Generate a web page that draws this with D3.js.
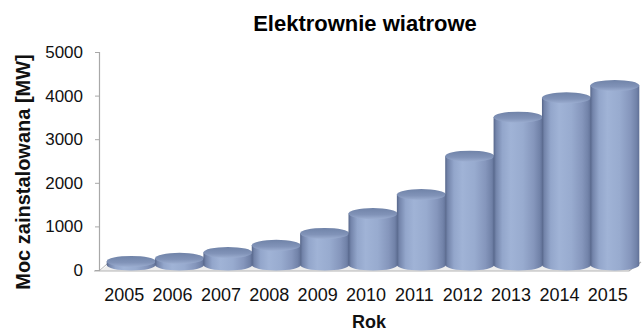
<!DOCTYPE html>
<html>
<head>
<meta charset="utf-8">
<script src="https://cdn.jsdelivr.net/npm/d3@7/dist/d3.min.js"></script>
<style>
  html, body { margin: 0; padding: 0; background: #fff; }
  svg { display: block; font-family: "Liberation Sans", Arial, sans-serif; }
</style>
</head>
<body>
<svg id="chart" width="643" height="333"></svg>
<script>
// Installed wind power capacity per year
const years = ["2005", "2006", "2007", "2008", "2009", "2010", "2011", "2012", "2013", "2014", "2015"];
const capacityMW = [83, 153, 287, 451, 725, 1180, 1616, 2497, 3390, 3834, 4117];
const yTicks = [0, 1000, 2000, 3000, 4000, 5000];

const svg = d3.select("#chart");

const x = d3.scaleBand().domain(years).range([100, 632]).padding(0);
const y = d3.scaleLinear().domain([0, 5000]).range([270, 52]);

// 3D depth offset of the cylinders relative to the axis plane
const depthX = 7, depthY = -5;
const rx = 24.5, ry = 5.5;

const defs = svg.append("defs");
const bodyGrad = defs.append("linearGradient").attr("id", "cylBody")
  .attr("x1", "0%").attr("x2", "100%").attr("y1", "0%").attr("y2", "0%");
[[0, "#56668a"], [5, "#7384aa"], [18, "#93a6cb"], [35, "#a0b3d6"], [60, "#98abcf"],
 [82, "#8596bc"], [94, "#7283a9"], [100, "#607096"]]
  .forEach(([o, c]) => bodyGrad.append("stop").attr("offset", o + "%").attr("stop-color", c));

const capGrad = defs.append("linearGradient").attr("id", "cylTop")
  .attr("x1", "0%").attr("x2", "0%").attr("y1", "0%").attr("y2", "100%");
[[0, "#7083a8"], [60, "#8193b8"], [100, "#9badd0"]]
  .forEach(([o, c]) => capGrad.append("stop").attr("offset", o + "%").attr("stop-color", c));

// Floor of the 3D plot
const floorY = y(0) + 1;
svg.append("path")
  .attr("d", `M${x.range()[0]},${floorY} L629,${floorY} L641,${floorY - 9} L${x.range()[0] + 12},${floorY - 9} Z`)
  .attr("fill", "#eeeeee").attr("stroke", "none");
svg.append("path")
  .attr("d", `M94,${floorY} L629,${floorY} L641,${floorY - 9}`)
  .attr("fill", "none").attr("stroke", "#b4b4b4").attr("stroke-width", 1.2);
svg.append("line")
  .attr("x1", 99).attr("y1", floorY).attr("x2", 107).attr("y2", floorY - 7)
  .attr("stroke", "#b4b4b4");

// Y axis
const yAxis = d3.axisLeft(y).tickValues(yTicks).tickFormat(d3.format("d"))
  .tickSize(4).tickPadding(12);
const gy = svg.append("g").attr("transform", "translate(99,0)").call(yAxis);
gy.select(".domain").attr("stroke", "#a8a8a8").attr("stroke-width", 1.2);
gy.selectAll(".tick line").attr("stroke", "#a8a8a8");
gy.selectAll(".tick text").attr("font-size", 17).attr("fill", "#111")
  .attr("font-family", "'Liberation Sans', Arial, sans-serif");

// Cylinders
const g = svg.append("g");
years.forEach((yr, i) => {
  const v = capacityMW[i];
  const cx = x(yr) + x.bandwidth() / 2 + depthX;
  const yt = y(v) + depthY;
  const yb = y(0) + depthY;
  g.append("path")
    .attr("d", `M${cx - rx},${yt} V${yb} A${rx},${ry} 0 0 0 ${cx + rx},${yb} V${yt} Z`)
    .attr("fill", "url(#cylBody)");
  g.append("ellipse")
    .attr("cx", cx).attr("cy", yt).attr("rx", rx).attr("ry", ry)
    .attr("fill", "url(#cylTop)");
});

// X axis labels
const xAxis = d3.axisBottom(x).tickSize(0).tickPadding(0);
const gx = svg.append("g").attr("transform", "translate(0,288)").call(xAxis);
gx.select(".domain").remove();
gx.selectAll(".tick text").attr("font-size", 18).attr("fill", "#111")
  .attr("dy", "0.71em")
  .attr("font-family", "'Liberation Sans', Arial, sans-serif");

// Titles
svg.append("text").attr("x", 365).attr("y", 31)
  .attr("text-anchor", "middle").attr("font-size", 22).attr("font-weight", "bold")
  .attr("fill", "#000").text("Elektrownie wiatrowe");
svg.append("text").attr("x", 369).attr("y", 328)
  .attr("text-anchor", "middle").attr("font-size", 18).attr("font-weight", "bold")
  .attr("fill", "#111").text("Rok");
svg.append("text")
  .attr("transform", "translate(30,172) rotate(-90)")
  .attr("text-anchor", "middle").attr("font-size", 20).attr("font-weight", "bold")
  .attr("fill", "#111").text("Moc zainstalowana [MW]");
</script>
</body>
</html>
